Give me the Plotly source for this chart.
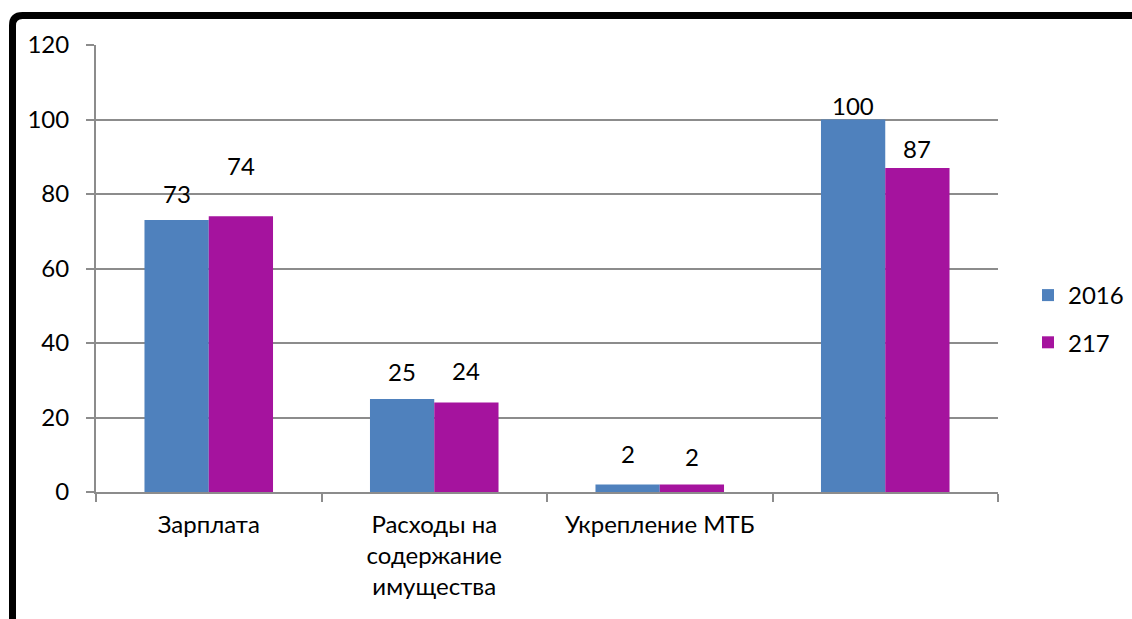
import plotly.graph_objects as go

categories = ["Зарплата", "Расходы на<br>содержание<br>имущества", "Укрепление МТБ", " "]
series_names = ["2016", "217"]
values_2016 = [73, 25, 2, 100]
values_217 = [74, 24, 2, 87]
# label offsets above bar tops (pixels), as placed in the original
label_shift_2016 = [27, 27, 31, 14]
label_shift_217 = [51, 32, 28, 19]
y_ticks = [0, 20, 40, 60, 80, 100, 120]

W, H = 1132, 619
L, R, T, B = 96, 998, 45, 492
FONT = "Lato"
FS = 24
BLUE = "#4F81BD"
PURPLE = "#A5139E"
GRID = "#8C8C8C"

def px(x):
    return (x - L) / (R - L)

def py(y):
    return (B - y) / (B - T)

fig = go.Figure()
fig.add_trace(go.Bar(x=categories, y=values_2016, name=series_names[0],
                     marker=dict(color=BLUE, line=dict(width=0)), legendgroup="a"))
fig.add_trace(go.Bar(x=categories, y=values_217, name=series_names[1],
                     marker=dict(color=PURPLE, line=dict(width=0)), legendgroup="b"))

ann = []
for vals, shifts, xs in [(values_2016, label_shift_2016, -32), (values_217, label_shift_217, 32)]:
    for c, v, s in zip(categories, vals, shifts):
        ann.append(dict(x=c, y=v, xref="x", yref="y", text=str(v), showarrow=False,
                        xshift=xs, yshift=s, font=dict(family=FONT, size=FS, color="#000"),
                        yanchor="middle", xanchor="center"))

# black frame (top and left, rounded corner)
r = 10
x0, y0 = 12.5, 15.5
path = (f"M {px(x0)},{py(650)} L {px(x0)},{py(y0 + r)} "
        f"Q {px(x0)},{py(y0)} {px(x0 + r)},{py(y0)} L {px(1150)},{py(y0)}")
shapes = [dict(type="path", xref="paper", yref="paper", path=path,
               line=dict(color="black", width=7))]

fig.update_layout(
    width=W, height=H,
    margin=dict(l=L, r=W - R, t=T, b=H - B, autoexpand=False),
    paper_bgcolor="white", plot_bgcolor="white",
    barmode="group", bargap=0.43, bargroupgap=0,
    font=dict(family=FONT, size=FS, color="#000"),
    showlegend=True,
    legend=dict(x=px(1028), y=py(319), xanchor="left", yanchor="middle",
                font=dict(family=FONT, size=FS), tracegroupgap=13,
                itemwidth=30, bgcolor="rgba(0,0,0,0)"),
    annotations=ann,
    shapes=shapes,
    xaxis=dict(type="category", showgrid=False, showline=True, linecolor=GRID, linewidth=2,
               ticks="outside", ticklen=8, tickcolor=GRID, tickwidth=2, tickson="boundaries",
               tickfont=dict(family=FONT, size=FS), ticklabelstandoff=10,
               range=[-0.5, 3.5], fixedrange=True),
    yaxis=dict(range=[0, 120], tickvals=y_ticks, showgrid=True, gridcolor=GRID, gridwidth=1.5,
               showline=True, linecolor=GRID, linewidth=2, ticks="outside", ticklen=8,
               tickcolor=GRID, tickwidth=2, zeroline=False,
               tickfont=dict(family=FONT, size=FS), ticklabelstandoff=12),
)

fig.write_html("out.html", config={"displayModeBar": False},
               post_script="document.body.style.margin='0';")
